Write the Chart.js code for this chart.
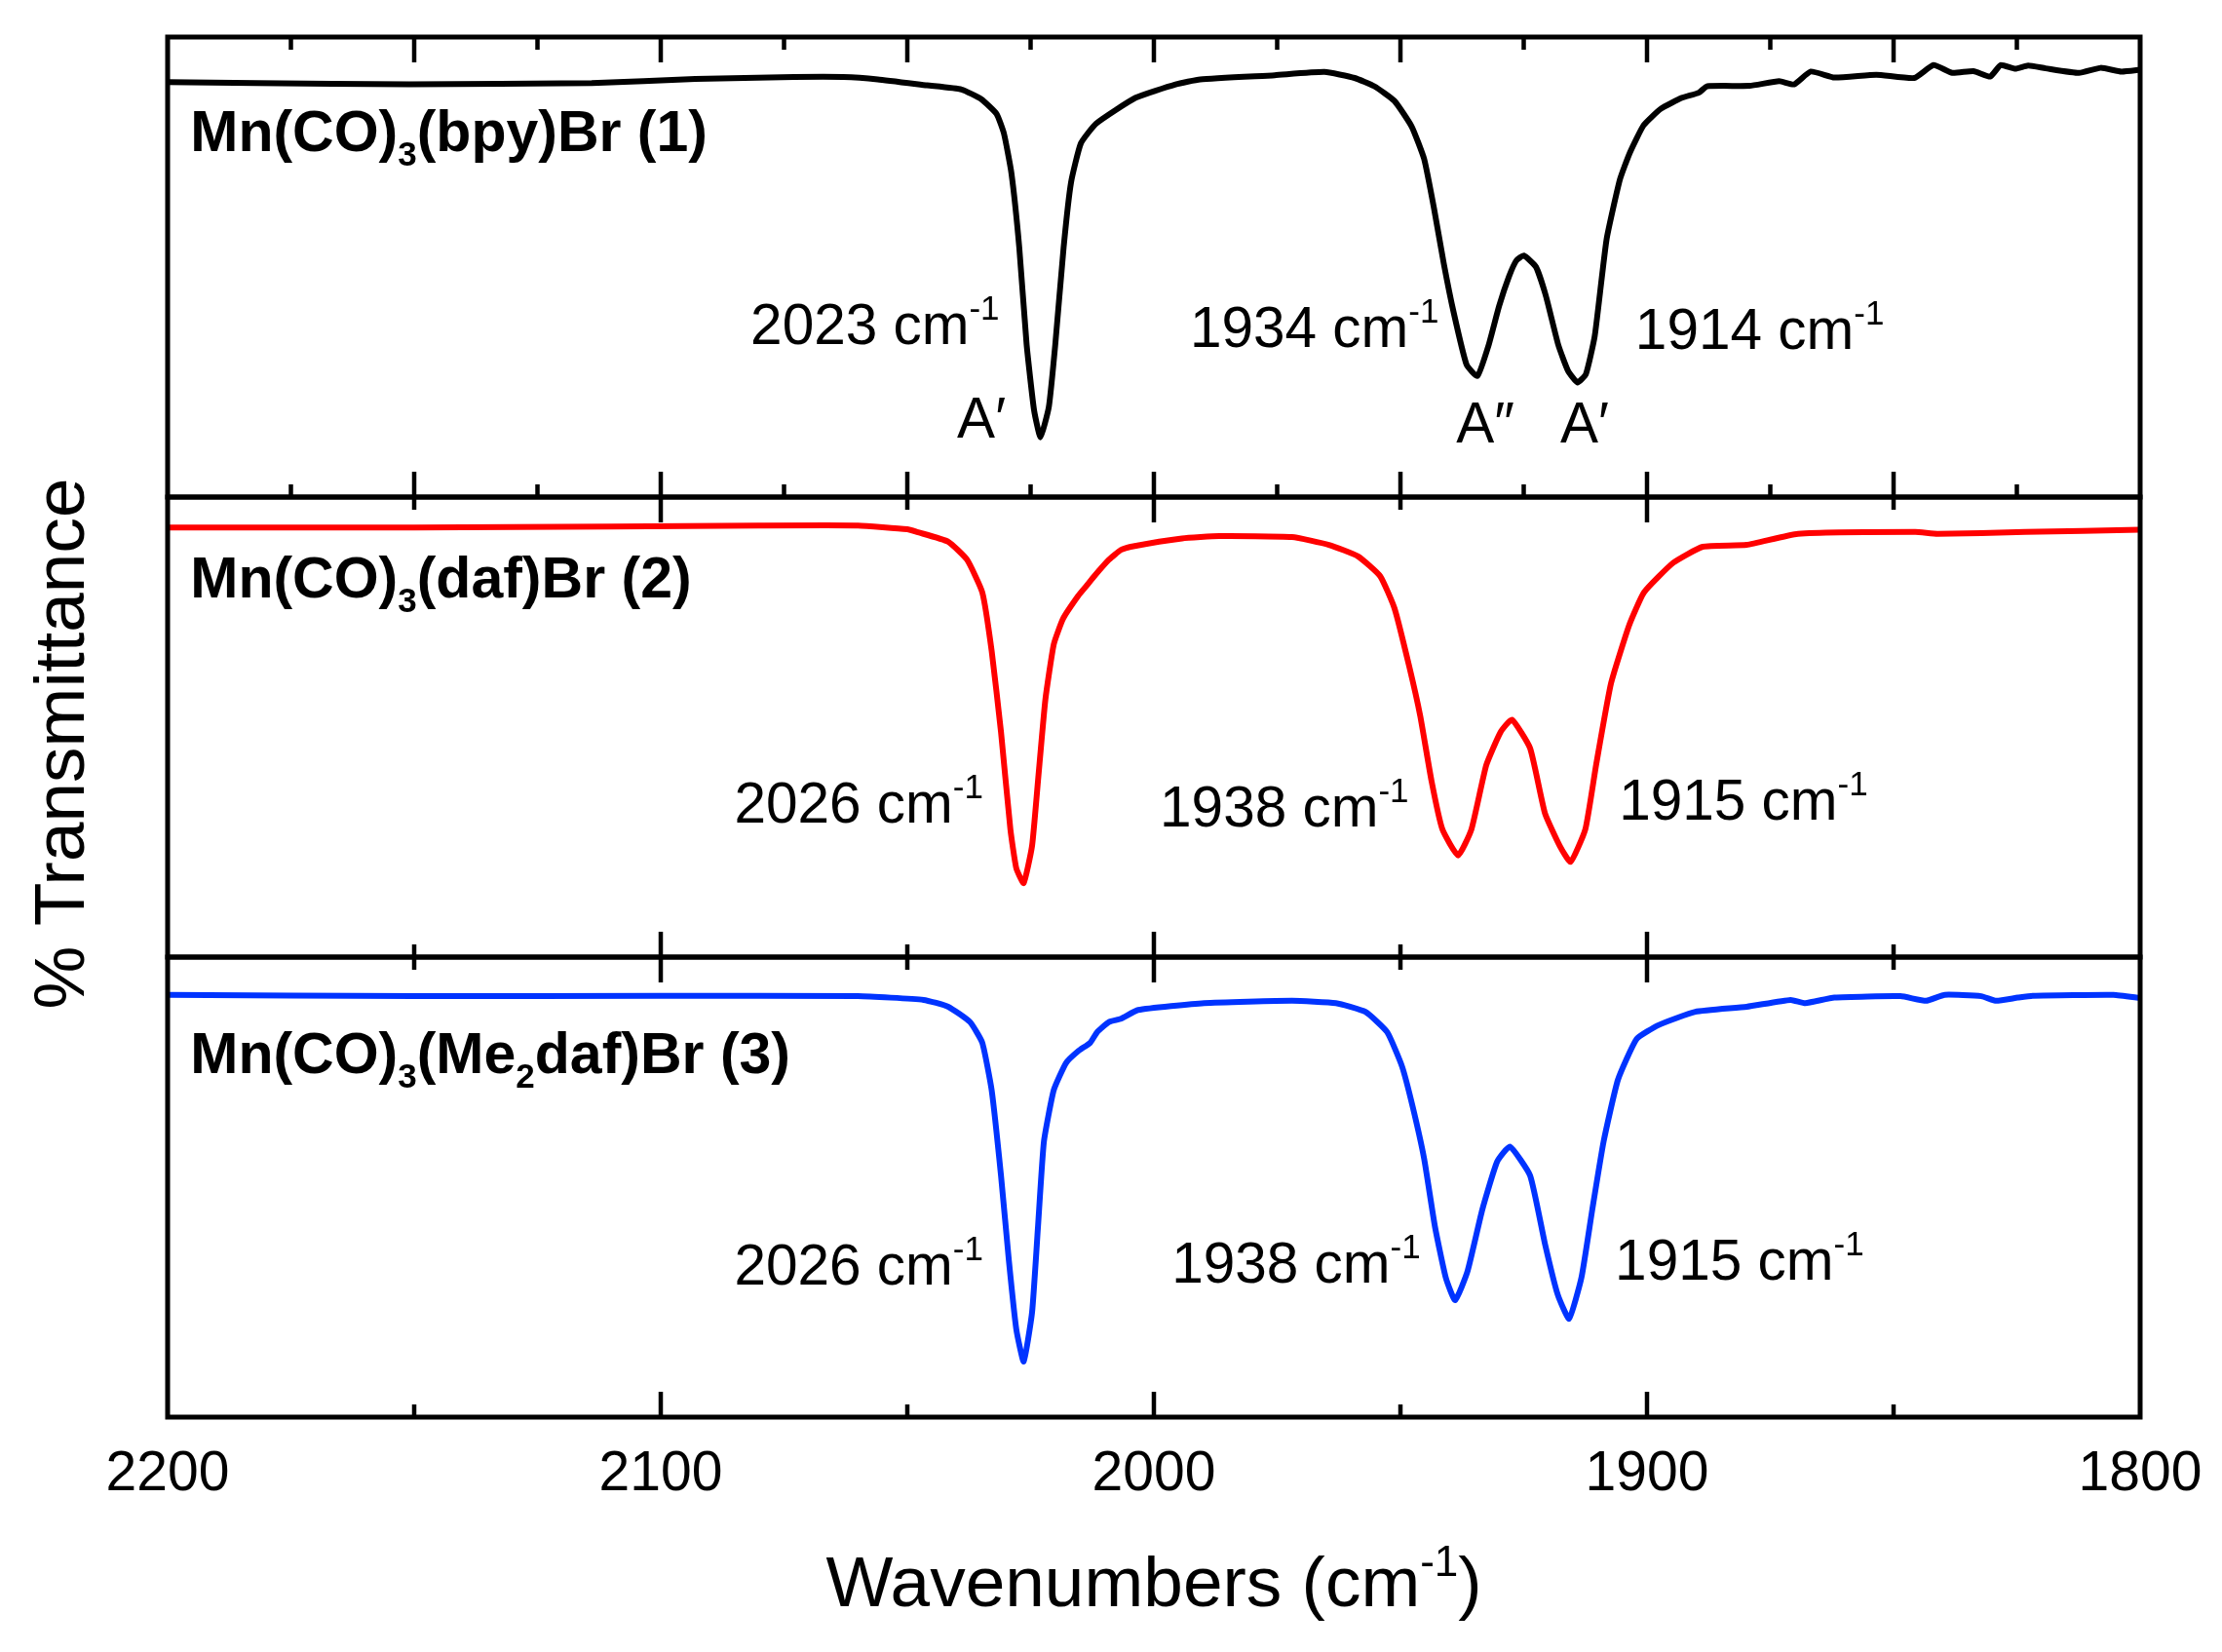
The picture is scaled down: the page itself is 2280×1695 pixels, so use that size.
<!DOCTYPE html>
<html><head><meta charset="utf-8">
<script src="https://cdn.jsdelivr.net/npm/chart.js@4.4.1/dist/chart.umd.min.js"></script>
<style>html,body{margin:0;padding:0;background:#fff;}canvas{display:block;}</style>
</head><body>
<canvas id="c" width="2280" height="1695"></canvas>
<script>
// ---------------- DATA ----------------
const wn1 = [2200,2182,2151,2114,2093,2073,2063,2056,2046,2039,2035,2031.9,2030.4,2028.9,2027.3,2025.8,2024.3,2023.0,2021.3,2020.0,2018.3,2016.8,2014.8,2011.7,2003.7,1995.6,1990.6,1975.5,1965.4,1959.3,1955.3,1951.2,1947.7,1945.2,1943.2,1941.2,1939.2,1936.6,1934.4,1932.1,1930.0,1928.0,1926.5,1925.0,1922.5,1920.5,1918.0,1916.0,1914.1,1912.4,1910.6,1908.2,1905.5,1903.5,1900.7,1897.2,1892.9,1889.5,1887.8,1879.2,1873.2,1870.2,1866.8,1862.0,1853.5,1845.8,1841.9,1838.1,1833.8,1830.4,1828.3,1825.3,1822.7,1819.2,1812.4,1808.0,1803.8,1800];
const t1  = [90.2,90.0,89.7,90.0,90.9,91.3,91.3,90.8,89.5,88.6,86.5,83.3,79.0,70.5,54.3,33.1,18.9,13.0,19.6,33.1,54.3,68.4,76.9,81.2,86.8,89.7,90.8,91.7,92.4,91.1,89.3,86.1,80.5,73.5,62.8,50.7,40.1,28.8,26.3,33.1,41.5,47.9,51.4,52.5,50.0,43.7,33.1,27.4,24.9,26.7,35.0,56.0,69.0,74.8,80.8,84.4,86.8,87.9,89.3,89.4,90.4,89.7,92.5,91.2,91.8,91.1,93.9,92.2,92.6,91.4,93.9,93.1,93.8,93.2,92.2,93.3,92.5,92.9];

const wn2 = [2200,2150,2110,2080,2060,2050,2048.0,2041.7,2037.9,2034.8,2032.9,2031.0,2029.1,2027.9,2026.4,2024.7,2023.5,2022.0,2020.3,2018.4,2015.3,2013.6,2012.1,2009.1,2006.7,2004.7,1994.3,1986.8,1972.0,1964.5,1958.6,1954.1,1951.2,1948.2,1946.0,1943.7,1941.5,1938.3,1935.6,1932.6,1929.7,1927.4,1923.7,1920.7,1917.7,1915.5,1912.5,1910.3,1907.3,1903.6,1900.6,1894.7,1888.7,1879.8,1869.4,1845.6,1841.1,1823.3,1800];
const t2  = [93.4,93.4,93.6,93.8,93.8,93.0,92.4,90.3,86.4,79.3,66.6,48.9,27.8,19.3,16.1,24.2,38.3,56.0,68.0,73.6,78.6,80.8,82.8,86.4,88.5,89.2,91.0,91.5,91.3,89.6,87.1,82.8,75.8,63.1,52.5,38.3,27.8,22.1,27.8,41.7,48.9,51.6,45.4,31.3,24.2,20.7,27.8,41.9,59.5,72.2,79.3,85.7,89.2,89.6,92.0,92.4,92.0,92.4,92.9];

const wn3 = [2200,2150,2100,2060,2046.7,2041.7,2037.3,2034.8,2032.9,2031.0,2029.4,2027.9,2026.4,2024.7,2023.5,2022.3,2020.3,2017.8,2015.3,2012.9,2011.5,2009.1,2006.7,2003.2,1989.8,1972.0,1963.1,1957.1,1952.7,1949.7,1947.5,1945.2,1943.0,1940.8,1938.9,1936.4,1933.4,1930.4,1927.8,1923.7,1920.7,1918.1,1915.8,1913.3,1911.1,1908.8,1905.9,1902.1,1897.7,1890.2,1879.8,1870.9,1867.9,1862.0,1848.6,1843.4,1839.6,1832.2,1829.2,1824.8,1821.8,1805.4,1800];
const t3  = [91.8,91.5,91.6,91.5,90.7,89.2,85.9,81.4,71.1,52.5,34.0,19.1,12.1,22.8,41.4,59.9,71.1,77.0,79.6,81.4,83.7,85.9,86.6,88.5,90.0,90.5,90.0,88.1,83.7,76.3,67.4,56.2,41.4,30.3,25.4,31.7,45.1,55.5,58.8,52.5,37.7,26.6,21.4,30.3,45.1,59.9,73.3,82.2,85.2,88.1,89.2,90.7,90.0,91.2,91.5,90.5,91.8,91.5,90.5,91.2,91.6,91.8,91.1];

const xTickLabels = [2200, 2100, 2000, 1900, 1800];
const seriesNames = ['Mn(CO)3(bpy)Br (1)', 'Mn(CO)3(daf)Br (2)', 'Mn(CO)3(Me2daf)Br (3)'];
const peakValues = [['2023','1934','1914'], ['2026','1938','1915'], ['2026','1938','1915']];
const modeLabels = ['A\u2032', 'A\u2033', 'A\u2032'];

// ---------------- LAYOUT / STYLE ----------------
const FONT = '"Liberation Sans", Arial, Helvetica, sans-serif';
const colors = ['#000000', '#FF0000', '#0033FF'];
const titleSegs = [
  [['Mn(CO)',''],['3','sub'],['(bpy)Br (1)','']],
  [['Mn(CO)',''],['3','sub'],['(daf)Br (2)','']],
  [['Mn(CO)',''],['3','sub'],['(Me',''],['2','sub'],['daf)Br (3)','']]
];
const titlePos = [[2195.4, 75.2], [2195.4, 78.2], [2195.4, 74.8]];
const peakPos = [
  [[2081.8, 33.3], [1992.7, 32.7], [1902.4, 32.1]],
  [[2085.1, 29.2], [1998.8, 28.4], [1905.7, 29.9]],
  [[2085.1, 28.8], [1996.4, 29.2], [1906.5, 29.8]]
];
const modePos = [[2039.9, 13.0], [1938.7, 11.9], [1917.6, 11.9]];
const tickSteps = [[50, 25], [100, 50], [100, 50]]; // [major, minor] per panel

function drawRich(ctx, x, y, segs, size, weight, align) {
  const fontFor = (mode) => `${weight} ${mode ? Math.round(size * 0.6) : size}px ${FONT}`;
  let total = 0;
  for (const [t, m] of segs) { ctx.font = fontFor(m); total += ctx.measureText(t).width; }
  let cx = align === 'center' ? x - total / 2 : x;
  ctx.textAlign = 'left';
  ctx.textBaseline = 'alphabetic';
  for (const [t, m] of segs) {
    ctx.font = fontFor(m);
    let dy = 0;
    if (m === 'sub') dy = size * 0.26;
    if (m === 'sup') dy = -size * 0.43;
    ctx.fillText(t, cx, y + dy);
    cx += ctx.measureText(t).width;
  }
}

const panelIds = ['y1', 'y2', 'y3'];

const decor = {
  id: 'decor',
  afterDatasetsDraw(chart) {
    const ctx = chart.ctx, xs = chart.scales.x, ca = chart.chartArea;
    ctx.save();
    ctx.strokeStyle = '#000';
    ctx.fillStyle = '#000';
    panelIds.forEach((id, i) => {
      const ys = chart.scales[id];
      const top = ys.top, bot = ys.bottom;
      const [maj, min] = tickSteps[i];
      ctx.lineWidth = 4.5;
      ctx.beginPath();
      for (let v = 1800 + min; v < 2200; v += min) {
        const len = (v % maj === 0) ? 26 : 13;
        const px = xs.getPixelForValue(v);
        ctx.moveTo(px, top); ctx.lineTo(px, top + len);
        ctx.moveTo(px, bot); ctx.lineTo(px, bot - len);
      }
      ctx.stroke();
      ctx.lineWidth = 5;
      ctx.strokeRect(ca.left, top, ca.right - ca.left, bot - top);
      drawRich(ctx, xs.getPixelForValue(titlePos[i][0]), ys.getPixelForValue(titlePos[i][1]), titleSegs[i], 59, 'bold', 'left');
      peakValues[i].forEach((p, k) => {
        drawRich(ctx, xs.getPixelForValue(peakPos[i][k][0]), ys.getPixelForValue(peakPos[i][k][1]),
          [[p + ' cm',''],['-1','sup']], 58.5, 'normal', 'left');
      });
      if (i === 0) {
        modeLabels.forEach((m, k) => {
          drawRich(ctx, xs.getPixelForValue(modePos[k][0]), ys.getPixelForValue(modePos[k][1]), [[m,'']], 58.5, 'normal', 'left');
        });
      }
    });
    drawRich(ctx, (ca.left + ca.right) / 2, xs.bottom - 47, [['Wavenumbers (cm',''],['-1','sup'],[')','']], 73, 'normal', 'center');
    ctx.save();
    ctx.translate(86, (ca.top + ca.bottom) / 2 + 17);
    ctx.rotate(-Math.PI / 2);
    drawRich(ctx, 0, 0, [['% Transmittance','']], 73, 'normal', 'center');
    ctx.restore();
    ctx.restore();
  }
};

const mk = (wn, t) => wn.map((w, i) => ({x: w, y: t[i]}));
const yAxis = () => ({type: 'linear', position: 'left', stack: 'panels', stackWeight: 1, min: 0, max: 100, display: false});

new Chart(document.getElementById('c'), {
  type: 'line',
  data: {
    datasets: [
      {label: seriesNames[0], data: mk(wn1, t1), yAxisID: 'y1'},
      {label: seriesNames[1], data: mk(wn2, t2), yAxisID: 'y2'},
      {label: seriesNames[2], data: mk(wn3, t3), yAxisID: 'y3'}
    ].map((d, i) => Object.assign(d, {xAxisID: 'x', borderColor: colors[i], borderWidth: 6, pointRadius: 0, fill: false, tension: 0.15, borderJoinStyle: 'round', borderCapStyle: 'round'}))
  },
  options: {
    responsive: false,
    animation: false,
    devicePixelRatio: 1,
    layout: {padding: {left: 172, right: 84, top: 38, bottom: 0}},
    plugins: {legend: {display: false}, tooltip: {enabled: false}},
    scales: {
      y3: yAxis(), y2: yAxis(), y1: yAxis(),
      x: {
        type: 'linear', position: 'bottom', min: 1800, max: 2200, reverse: true,
        afterBuildTicks: (s) => { s.ticks = xTickLabels.map(v => ({value: v})); },
        ticks: {autoSkip: false, maxRotation: 0, padding: 25, color: '#000', font: {family: FONT, size: 57}, callback: (v) => String(v)},
        grid: {display: false, drawTicks: false},
        border: {display: false},
        afterFit: (s) => { s.height = 241; s.paddingLeft = 0; s.paddingRight = 0; }
      }
    }
  },
  plugins: [decor]
});
</script>
</body></html>
